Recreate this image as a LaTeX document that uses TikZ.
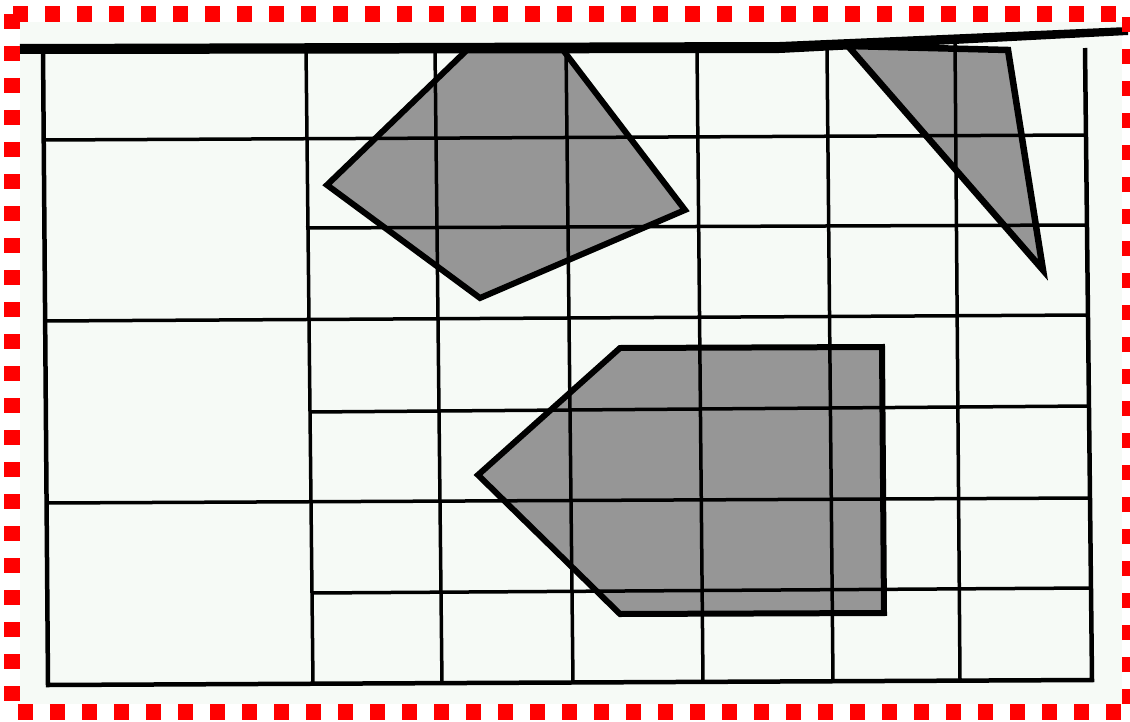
\documentclass[tikz,border=0pt]{standalone}
\begin{document}
\begin{tikzpicture}
                                \useasboundingbox (0,0) rectangle (22.600000,14.420000);
                                \clip (0,0) rectangle (22.600000,14.420000);
                                {\footnotesize

                                % Changing color 246 250 246
                                \definecolor{r246g250b246}{rgb}{0.964706,0.980392,0.964706}%
                                \color{r246g250b246}%

                                % Filling paper
                                \fill (0.400000,13.980000) rectangle (22.440000,0.340000);%

                                % Changing color 150 150 150
                                \definecolor{r150g150b150}{rgb}{0.588235,0.588235,0.588235}%
                                \color{r150g150b150}%

                                % Filling kite
                                \fill (9.340000,13.420000) -- (11.260000,13.420000) -- (13.700000,10.220000) -- (9.600000,8.460000) -- (6.540000,10.720000) -- cycle;%

                                % Filling triangle
                                \fill (16.960000,13.500000) -- (20.160000,13.420000) -- (20.860000,9.020000) -- cycle;%

                                % Filling pentagon
                                \fill (12.400000,7.460000) -- (17.640000,7.480000) -- (17.680000,2.160000) -- (12.400000,2.140000) -- (9.560000,4.920000) -- cycle;%

                                % Changing color 0 0 0
                                \definecolor{r0g0b0}{rgb}{0.000000,0.000000,0.000000}%
                                \color{r0g0b0}%

                                % Drawing top edge
                                \fill (0.400000,13.540000) -- (15.600000,13.580000) -- (22.560000,13.880000) -- (22.560000,13.720000) -- (15.600000,13.360000) -- (0.400000,13.340000) -- cycle;%

                                % Drawing frame
                                \draw [line width=0.090000cm] (0.860000,13.460000) -- (0.960000,0.720000) -- (21.840000,0.820000) -- (21.700000,13.460000);%

                                % Drawing vertical lines
                                \draw [line width=0.070000cm] (6.120000,13.460000) -- (6.260000,0.740000);%
                                \draw [line width=0.070000cm] (8.700000,13.460000) -- (8.840000,0.740000);%
                                \draw [line width=0.070000cm] (11.320000,13.460000) -- (11.460000,0.760000);%
                                \draw [line width=0.070000cm] (13.940000,13.460000) -- (14.060000,0.780000);%
                                \draw [line width=0.070000cm] (16.540000,13.460000) -- (16.660000,0.800000);%
                                \draw [line width=0.070000cm] (19.100000,13.600000) -- (19.200000,0.820000);%

                                % Drawing horizontal lines
                                \draw [line width=0.070000cm] (0.860000,11.620000) -- (21.700000,11.720000);%
                                \draw [line width=0.070000cm] (6.120000,9.860000) -- (21.700000,9.920000);%
                                \draw [line width=0.070000cm] (0.900000,8.000000) -- (21.760000,8.120000);%
                                \draw [line width=0.070000cm] (6.180000,6.180000) -- (21.800000,6.300000);%
                                \draw [line width=0.070000cm] (0.940000,4.360000) -- (21.800000,4.460000);%
                                \draw [line width=0.070000cm] (6.240000,2.560000) -- (21.840000,2.660000);%

                                % Drawing kite
                                \draw [line width=0.120000cm] (9.340000,13.420000) -- (11.260000,13.420000) -- (13.700000,10.220000) -- (9.600000,8.460000) -- (6.540000,10.720000) -- cycle;%

                                % Drawing triangle
                                \draw [line width=0.130000cm] (16.960000,13.500000) -- (20.160000,13.420000) -- (20.860000,9.020000) -- cycle;%

                                % Drawing pentagon
                                \draw [line width=0.120000cm] (12.400000,7.460000) -- (17.640000,7.480000) -- (17.680000,2.160000) -- (12.400000,2.140000) -- (9.560000,4.920000) -- cycle;%

                                % Changing color 255 0 0
                                \definecolor{r255g0b0}{rgb}{1.000000,0.000000,0.000000}%
                                \color{r255g0b0}%

                                % Drawing dashed border
                                \draw [line width=0.320000cm, dash pattern=on 0.300000cm off 0.340000cm] (0.240000,14.140000) rectangle (22.600000,0.180000);%
                                \color{black}
                                }
                                \end{tikzpicture}
\end{document}
